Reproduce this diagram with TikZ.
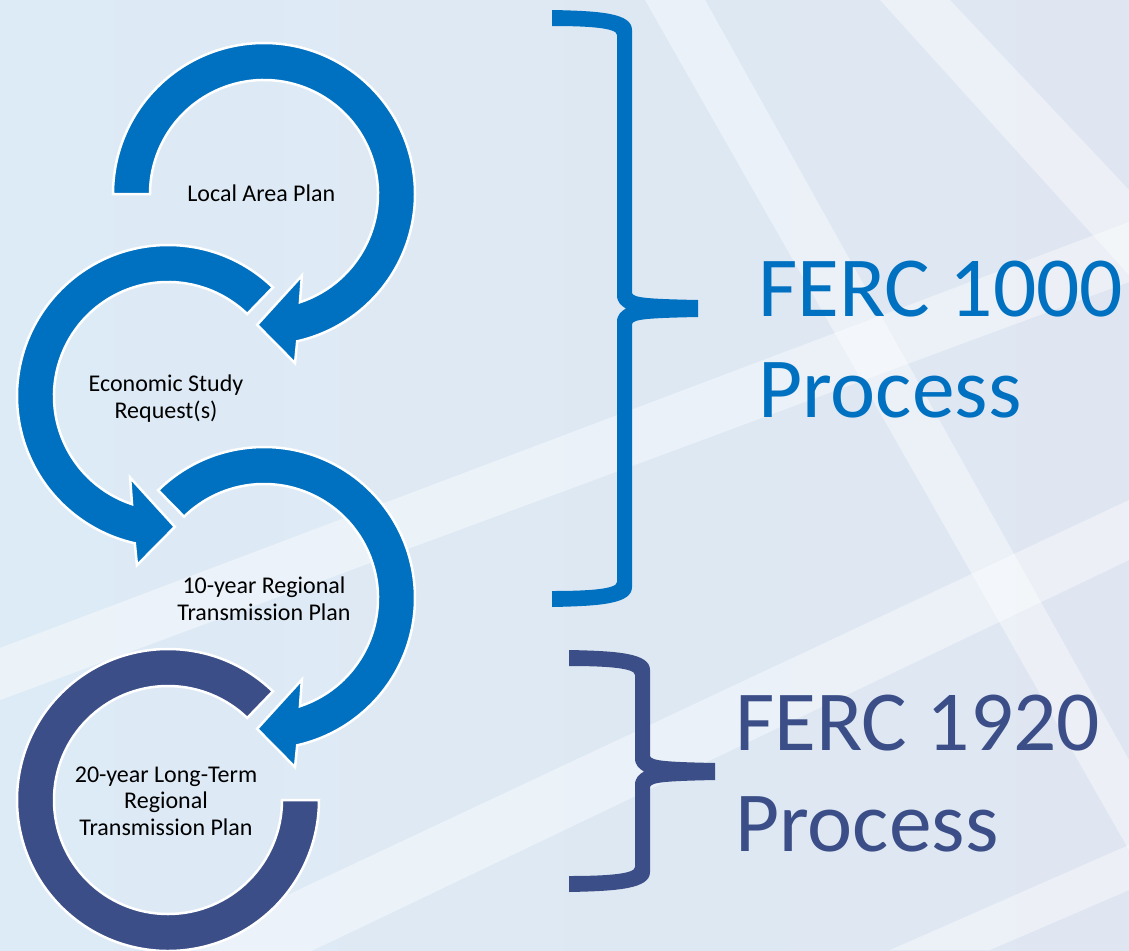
\documentclass[tikz,border=0pt]{standalone}
\usepackage{fontspec}
\setmainfont{Carlito}
\usetikzlibrary{calc}
\usepackage{xcolor}

\definecolor{ferc_blue}{RGB}{0,112,192}
\definecolor{ferc_navy}{RGB}{59,78,135}
\definecolor{page_left}{RGB}{221,235,246}
\definecolor{page_right}{RGB}{223,230,241}

% #1 colour, #2 arm end x, #3 stem x, #4 tip x, #5 top y, #6 tip y, #7 bottom y
\newcommand{\fercbrace}[7]{%
    \fill[#1] (#2,{#5-8}) .. controls ({#2+48},{#5-7}) and ({#3+7.5},{#5-5}) .. ({#3+7.5},{#5+12})
        -- ({#3+7.5},{#6-15.5})
        .. controls ({#3+8.5},{#6-10.5}) and ({#3+25.5},{#6-9.5}) .. (#4,{#6-8.5})
        -- (#4,{#6+8.5})
        .. controls ({#3+25.5},{#6+9.5}) and ({#3+8.5},{#6+10.5}) .. ({#3+7.5},{#6+15.5})
        -- ({#3+7.5},{#7-12})
        .. controls ({#3+7.5},{#7+5}) and ({#2+48},{#7+7}) .. (#2,{#7+8})
        -- (#2,{#7-8})
        .. controls ({#2+38},{#7-8}) and ({#3-7.5},{#7-10}) .. ({#3-7.5},{#7-17})
        -- ({#3-7.5},{#6+13.5})
        .. controls ({#3-7.5},{#6+5.5}) and ({#3-2.5},{#6+2.5}) .. ({#3+1.5},#6)
        .. controls ({#3-2.5},{#6-2.5}) and ({#3-7.5},{#6-5.5}) .. ({#3-7.5},{#6-13.5})
        -- ({#3-7.5},{#5+17})
        .. controls ({#3-7.5},{#5+10}) and ({#2+38},{#5+8}) .. (#2,{#5+8})
        -- cycle;
}

\begin{document}
\begin{tikzpicture}[x=1pt, y=-1pt,
    stage/.style={
        font=\fontsize{24}{26.5}\selectfont,
        align=center,
        anchor=base,
        inner sep=0pt
    },
    process/.style={
        font=\fontsize{85.5}{101}\selectfont,
        align=left,
        anchor=base west,
        inner sep=0pt
    },
    ring_arrow/.style={fill=ferc_blue, draw=white, line width=2.5pt},
    band/.style={white, opacity=0.42}
]
    \useasboundingbox (0,0) rectangle (1129,950);
    \shade[left color=page_left, right color=page_right] (0,0) rectangle (1129,950);

    %background bands
    \fill[band] (645,0) -- (705,0) -- (1129,760) -- (1129,850) -- cycle;
    \fill[band] (880,0) -- (950,0) -- (1129,190) -- (1129,275) -- cycle;
    \fill[band] (0,648) -- (1129,222) -- (1129,282) -- (0,700) -- cycle;
    \fill[band] (0,1030) -- (1129,500) -- (1129,560) -- (0,1100) -- cycle;
    \fill[band] (890,950) -- (1129,845) -- (1129,890) -- (990,950) -- cycle;

    \coordinate (local_area_c) at (264,194);
    \coordinate (economic_c) at (168,396);
    \coordinate (regional_c) at (264,598);
    \coordinate (longterm_c) at (168,800);

    %rings
    \filldraw[ring_arrow] ($(local_area_c)+(-180:151)$) arc[start angle=-180, end angle=77.3, radius=151]
        -- ($(local_area_c)+(79.6:172)$) -- ($(local_area_c)+(93:131)$) -- ($(local_area_c)+(65.1:90)$)
        -- ($(local_area_c)+(71.6:114)$) arc[start angle=71.6, end angle=-180, radius=114] -- cycle;

    \filldraw[ring_arrow] ($(economic_c)+(-46:151)$) arc[start angle=-46, end angle=-257.3, radius=151]
        -- ($(economic_c)+(100.4:172)$) -- ($(economic_c)+(87:131)$) -- ($(economic_c)+(114.9:90)$)
        -- ($(economic_c)+(-251.6:114)$) arc[start angle=-251.6, end angle=-46, radius=114] -- cycle;

    \filldraw[ring_arrow] ($(regional_c)+(-134.5:151)$) arc[start angle=-134.5, end angle=77.3, radius=151]
        -- ($(regional_c)+(79.6:172)$) -- ($(regional_c)+(93:131)$) -- ($(regional_c)+(65.1:90)$)
        -- ($(regional_c)+(71.6:114)$) arc[start angle=71.6, end angle=-134.5, radius=114] -- cycle;

    \filldraw[ring_arrow, fill=ferc_navy] ($(longterm_c)+(-46:151)$) arc[start angle=-46, end angle=-360, radius=151]
        -- ($(longterm_c)+(0:114)$) arc[start angle=0, end angle=314, radius=114] -- cycle;

    \node (local_area_plan) [stage, shift={(264, 201)}]
    {
        Local Area Plan
    };
    \node (economic_study_request) [stage, shift={(166, 418)}]
    {
        Economic Study\\Request(s)
    };
    \node (regional_plan_10yr) [stage, shift={(264, 620)}]
    {
        10-year Regional\\Transmission Plan
    };
    \node (longterm_plan_20yr) [stage, shift={(166, 835)}]
    {
        20-year Long-Term\\Regional\\Transmission Plan
    };

    %braces
    \fercbrace{ferc_blue}{552}{624.5}{698}{18}{308.5}{599}
    \fercbrace{ferc_navy}{569}{642.5}{715}{658}{771.5}{884}

    \node (ferc_1000) [process, text=ferc_blue, shift={(758, 417)}]
    {
        FERC 1000\\Process
    };
    \node (ferc_1920) [process, text=ferc_navy, shift={(735, 851)}]
    {
        FERC 1920\\Process
    };

\end{tikzpicture}
\end{document}
